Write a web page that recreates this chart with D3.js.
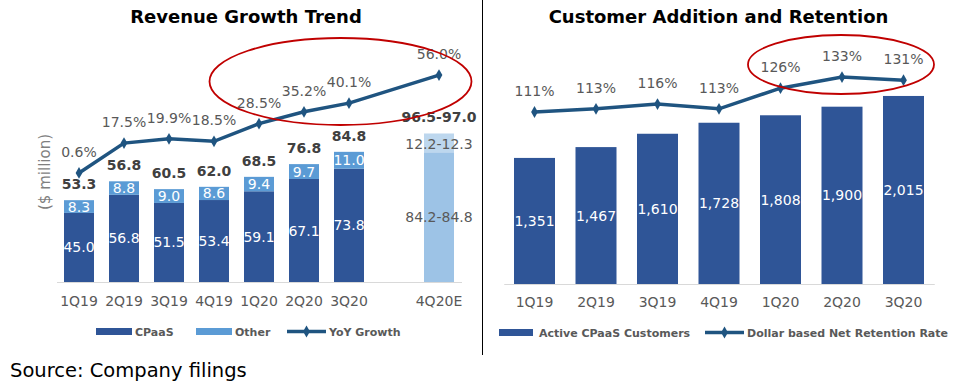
<!DOCTYPE html>
<html>
<head>
<meta charset="utf-8">
<script src="https://cdn.jsdelivr.net/npm/d3@7"></script>
<style>
  body { margin: 0; background: #fff; }
  svg text { font-family: 'DejaVu Sans', sans-serif; }
</style>
</head>
<body>
<script>
const width = 953;
const height = 385;

// ---- data ----
const quarters = ["1Q19", "2Q19", "3Q19", "4Q19", "1Q20", "2Q20", "3Q20"];
const revCats = ["1Q19", "2Q19", "3Q19", "4Q19", "1Q20", "2Q20", "3Q20", "", "4Q20E"];
const cpaas = [45.0, 56.8, 51.5, 53.4, 59.1, 67.1, 73.8];
const other = [8.3, 8.8, 9.0, 8.6, 9.4, 9.7, 11.0];
const totalLabels = ["53.3", "56.8", "60.5", "62.0", "68.5", "76.8", "84.8"];
const cpaasEst = [84.2, 84.8];
const otherEst = [12.2, 12.3];
const totalEst = [96.5, 97.0];
const yoyCats = ["1Q19", "2Q19", "3Q19", "4Q19", "1Q20", "2Q20", "3Q20", "4Q20E"];
const yoyGrowth = [0.6, 17.5, 19.9, 18.5, 28.5, 35.2, 40.1, 56.0];
const customers = [1351, 1467, 1610, 1728, 1808, 1900, 2015];
const retention = [111, 113, 116, 113, 126, 133, 131];

const C_CPAAS = "#2F5597";
const C_OTHER = "#5B9BD5";
const C_EST = "#9DC3E6";
const C_EST2 = "#BDD7EE";
const C_LINE = "#1F5480";
const C_GRAY = "#595959";

const svg = d3.select("body").append("svg")
  .attr("width", width)
  .attr("height", height);

const diamond = d3.symbol().type(d3.symbolDiamond).size(40);

// ================= left: revenue =================
const x1 = d3.scaleBand().domain(revCats).range([56.5, 461.5])
  .paddingInner(1 / 3).paddingOuter(1 / 6);
const y1 = d3.scaleLinear().domain([0, 100]).range([282, 128.5]);
const yYoy = d3.scaleLinear().domain([0, 60]).range([174, 68]);

const left = svg.append("g");

left.append("text")
  .attr("x", 246).attr("y", 23)
  .attr("text-anchor", "middle")
  .style("font-size", "18px").style("font-weight", "bold")
  .text("Revenue Growth Trend");

left.append("text")
  .attr("transform", "translate(50,172) rotate(-90)")
  .attr("text-anchor", "middle")
  .style("font-size", "15px").style("fill", "#7F7F7F")
  .text("($ million)");

const rev = quarters.map((q, i) => ({ q, cpaas: cpaas[i], other: other[i], total: totalLabels[i] }));

// cpaas segments
left.selectAll(".cp").data(rev).enter().append("rect")
  .attr("x", d => x1(d.q)).attr("width", x1.bandwidth())
  .attr("y", d => y1(d.cpaas)).attr("height", d => y1(0) - y1(d.cpaas))
  .attr("fill", C_CPAAS);

left.selectAll(".ot").data(rev).enter().append("rect")
  .attr("x", d => x1(d.q)).attr("width", x1.bandwidth())
  .attr("y", d => y1(d.cpaas + d.other)).attr("height", d => y1(d.cpaas) - y1(d.cpaas + d.other))
  .attr("fill", C_OTHER);

// estimate bar
const cpMid = d3.mean(cpaasEst), otMid = d3.mean(otherEst);
left.append("rect")
  .attr("x", x1("4Q20E")).attr("width", x1.bandwidth())
  .attr("y", y1(cpMid)).attr("height", y1(0) - y1(cpMid))
  .attr("fill", C_EST);
left.append("rect")
  .attr("x", x1("4Q20E")).attr("width", x1.bandwidth())
  .attr("y", y1(cpMid + otMid)).attr("height", y1(cpMid) - y1(cpMid + otMid))
  .attr("fill", C_EST2);

// bar labels
left.selectAll(".lcp").data(rev).enter().append("text")
  .attr("x", d => x1(d.q) + x1.bandwidth() / 2)
  .attr("y", d => (y1(0) + y1(d.cpaas)) / 2 + 5)
  .attr("text-anchor", "middle").style("font-size", "14px").style("fill", "#fff")
  .text(d => d.cpaas.toFixed(1));

left.selectAll(".lot").data(rev).enter().append("text")
  .attr("x", d => x1(d.q) + x1.bandwidth() / 2)
  .attr("y", d => (y1(d.cpaas) + y1(d.cpaas + d.other)) / 2 + 5)
  .attr("text-anchor", "middle").style("font-size", "14px").style("fill", "#fff")
  .text(d => d.other.toFixed(1));

left.selectAll(".ltot").data(rev).enter().append("text")
  .attr("x", d => x1(d.q) + x1.bandwidth() / 2)
  .attr("y", d => y1(d.cpaas + d.other) - 11)
  .attr("text-anchor", "middle").style("font-size", "14px").style("font-weight", "bold")
  .style("fill", "#404040")
  .text(d => d.total);

const xe = x1("4Q20E") + x1.bandwidth() / 2;
left.append("text").attr("x", xe).attr("y", (y1(0) + y1(cpMid)) / 2 + 5)
  .attr("text-anchor", "middle").style("font-size", "14px").style("fill", C_GRAY)
  .text(cpaasEst.map(v => v.toFixed(1)).join("-"));
left.append("text").attr("x", xe).attr("y", y1(cpMid + otMid) + 16)
  .attr("text-anchor", "middle").style("font-size", "14px").style("fill", C_GRAY)
  .text(otherEst.map(v => v.toFixed(1)).join("-"));
left.append("text").attr("x", xe).attr("y", y1(cpMid + otMid) - 11)
  .attr("text-anchor", "middle").style("font-size", "14px").style("font-weight", "bold")
  .style("fill", "#404040")
  .text(totalEst.map(v => v.toFixed(1)).join("-"));

// x axis
const ax1 = left.append("g").attr("transform", "translate(0,282)")
  .call(d3.axisBottom(x1).tickSize(0).tickPadding(14));
ax1.select(".domain").attr("stroke", "#D9D9D9");
ax1.selectAll("text").style("font-size", "14px").style("fill", C_GRAY)
  .style("font-family", "'DejaVu Sans', sans-serif");

// yoy line
const yoyData = yoyCats.map((q, i) => ({ q, v: yoyGrowth[i] }));
const cx1 = d => x1(d.q) + x1.bandwidth() / 2;
left.append("path").datum(yoyData)
  .attr("d", d3.line().x(cx1).y(d => yYoy(d.v)))
  .attr("fill", "none").attr("stroke", C_LINE).attr("stroke-width", 3.5);
left.selectAll(".mk").data(yoyData).enter().append("path")
  .attr("d", diamond)
  .attr("transform", d => `translate(${cx1(d)},${yYoy(d.v)})`)
  .attr("fill", C_LINE);
left.selectAll(".ly").data(yoyData).enter().append("text")
  .attr("x", cx1).attr("y", d => yYoy(d.v) - 16)
  .attr("text-anchor", "middle").style("font-size", "14px").style("fill", C_GRAY)
  .text(d => d.v.toFixed(1) + "%");

// highlight ellipse
left.append("ellipse")
  .attr("cx", 340.5).attr("cy", 81.5).attr("rx", 131).attr("ry", 43.5)
  .attr("fill", "none").attr("stroke", "#C00000").attr("stroke-width", 1.8);

// legend
const leg1 = left.append("g").attr("transform", "translate(0,332)");
[["CPaaS", C_CPAAS, 96], ["Other", C_OTHER, 196]].forEach(([t, c, x]) => {
  leg1.append("rect").attr("x", x).attr("y", -4).attr("width", 36).attr("height", 7).attr("fill", c);
  leg1.append("text").attr("x", x + 39).attr("y", 4)
    .style("font-size", "11px").style("font-weight", "bold").style("fill", C_GRAY).text(t);
});
leg1.append("line").attr("x1", 287).attr("x2", 326).attr("y1", -0.5).attr("y2", -0.5)
  .attr("stroke", C_LINE).attr("stroke-width", 3.5);
leg1.append("path").attr("d", diamond).attr("transform", "translate(306.5,-0.5)").attr("fill", C_LINE);
leg1.append("text").attr("x", 329).attr("y", 4)
  .style("font-size", "11px").style("font-weight", "bold").style("fill", C_GRAY).text("YoY Growth");

// separator
svg.append("line").attr("x1", 482.5).attr("x2", 482.5).attr("y1", 0).attr("y2", 355)
  .attr("stroke", "#000").attr("stroke-width", 1);

// source
svg.append("text").attr("x", 10).attr("y", 377)
  .style("font-size", "19.5px").style("fill", "#000")
  .text("Source: Company filings");

// ================= right: customers =================
const x2 = d3.scaleBand().domain(quarters).range([503.75, 934.25])
  .paddingInner(1 / 3).paddingOuter(1 / 6);
const y2 = d3.scaleLinear().domain([0, 2500]).range([284, 284 - 233.3]);
const yRet = d3.scaleLinear().domain([100, 140]).range([129.5, 65.9]);

const right = svg.append("g");

right.append("text")
  .attr("x", 718.5).attr("y", 23)
  .attr("text-anchor", "middle")
  .style("font-size", "18px").style("font-weight", "bold")
  .text("Customer Addition and Retention");

const cust = quarters.map((q, i) => ({ q, c: customers[i], r: retention[i] }));
const cx2 = d => x2(d.q) + x2.bandwidth() / 2;

right.selectAll(".cb").data(cust).enter().append("rect")
  .attr("x", d => x2(d.q)).attr("width", x2.bandwidth())
  .attr("y", d => y2(d.c)).attr("height", d => y2(0) - y2(d.c))
  .attr("fill", C_CPAAS);

right.selectAll(".cl").data(cust).enter().append("text")
  .attr("x", cx2).attr("y", d => (y2(0) + y2(d.c)) / 2 + 5)
  .attr("text-anchor", "middle").style("font-size", "14px").style("fill", "#fff")
  .text(d => d3.format(",")(d.c));

const ax2 = right.append("g").attr("transform", "translate(0,284)")
  .call(d3.axisBottom(x2).tickSize(0).tickPadding(13));
ax2.select(".domain").attr("stroke", "#D9D9D9");
ax2.selectAll("text").style("font-size", "14px").style("fill", C_GRAY)
  .style("font-family", "'DejaVu Sans', sans-serif");

right.append("path").datum(cust)
  .attr("d", d3.line().x(cx2).y(d => yRet(d.r)))
  .attr("fill", "none").attr("stroke", C_LINE).attr("stroke-width", 3.5);
right.selectAll(".rm").data(cust).enter().append("path")
  .attr("d", diamond)
  .attr("transform", d => `translate(${cx2(d)},${yRet(d.r)})`)
  .attr("fill", C_LINE);
right.selectAll(".rl").data(cust).enter().append("text")
  .attr("x", cx2).attr("y", d => yRet(d.r) - 16)
  .attr("text-anchor", "middle").style("font-size", "14px").style("fill", C_GRAY)
  .text(d => d.r + "%");

right.append("ellipse")
  .attr("cx", 841).attr("cy", 64.5).attr("rx", 93).attr("ry", 29.5)
  .attr("fill", "none").attr("stroke", "#C00000").attr("stroke-width", 1.8);

const leg2 = right.append("g").attr("transform", "translate(0,333)");
leg2.append("rect").attr("x", 499).attr("y", -4).attr("width", 34).attr("height", 7).attr("fill", C_CPAAS);
leg2.append("text").attr("x", 539).attr("y", 4)
  .style("font-size", "11px").style("font-weight", "bold").style("fill", C_GRAY)
  .text("Active CPaaS Customers");
leg2.append("line").attr("x1", 705).attr("x2", 744).attr("y1", -0.5).attr("y2", -0.5)
  .attr("stroke", C_LINE).attr("stroke-width", 3.5);
leg2.append("path").attr("d", diamond).attr("transform", "translate(724.5,-0.5)").attr("fill", C_LINE);
leg2.append("text").attr("x", 747).attr("y", 4)
  .style("font-size", "11px").style("font-weight", "bold").style("fill", C_GRAY)
  .text("Dollar based Net Retention Rate");
</script>
</body>
</html>
